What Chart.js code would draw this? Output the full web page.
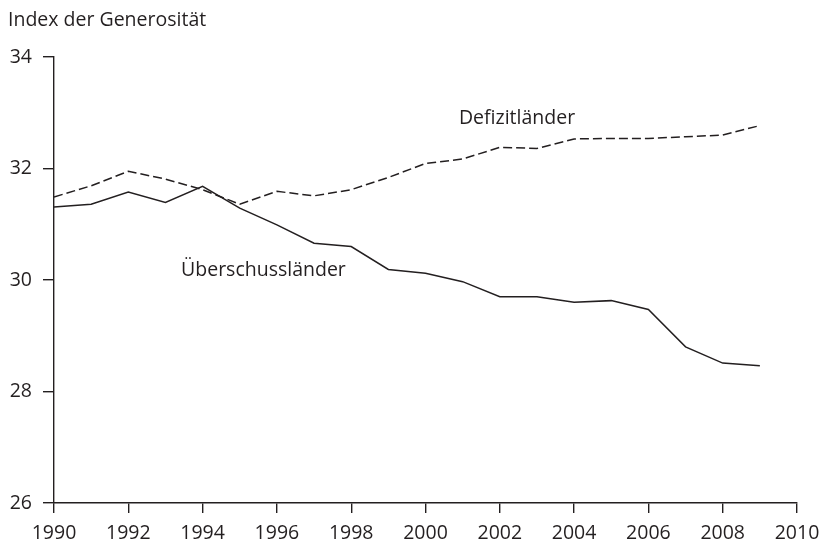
<!DOCTYPE html>
<html>
<head>
<meta charset="utf-8">
<script src="https://cdn.jsdelivr.net/npm/chart.js@4"></script>
<style>
  html, body { margin: 0; padding: 0; background: #fff; }
  #chart { display: block; }
</style>
</head>
<body>
<canvas id="chart" width="820" height="541"></canvas>
<script>
const years = [1990, 1991, 1992, 1993, 1994, 1995, 1996, 1997, 1998, 1999,
               2000, 2001, 2002, 2003, 2004, 2005, 2006, 2007, 2008, 2009];
const defizit = [31.49, 31.69, 31.95, 31.81, 31.62, 31.36, 31.59, 31.51, 31.62, 31.84,
                 32.09, 32.17, 32.38, 32.36, 32.53, 32.54, 32.54, 32.57, 32.60, 32.77];
const ueberschuss = [31.31, 31.36, 31.58, 31.39, 31.68, 31.29, 30.99, 30.66, 30.60, 30.19,
                     30.12, 29.97, 29.70, 29.70, 29.60, 29.63, 29.47, 28.80, 28.51, 28.46];
const yTicks = [26, 28, 30, 32, 34];
const xTicks = [1990, 1992, 1994, 1996, 1998, 2000, 2002, 2004, 2006, 2008, 2010];

const ink = '#231f20';
const fontFamily = '"Open Sans", "Noto Sans", sans-serif';
const fontSize = 19.5;

// labels placed in data coordinates
const seriesLabels = [
    { text: 'Defizitländer', x: 2000.9, y: 32.89 },
    { text: 'Überschussländer', x: 1993.42, y: 30.17 }
];

const textPlugin = {
    id: 'textPlugin',
    afterDraw(chart) {
        const ctx = chart.ctx;
        const xs = chart.scales.x;
        const ys = chart.scales.y;
        ctx.save();
        ctx.fillStyle = ink;
        ctx.font = fontSize + 'px ' + fontFamily;
        ctx.textBaseline = 'middle';
        ctx.textAlign = 'left';
        ctx.fillText('Index der Generosität', 8, 20);
        seriesLabels.forEach(l => {
            ctx.fillText(l.text, xs.getPixelForValue(l.x), ys.getPixelForValue(l.y));
        });
        ctx.restore();
    }
};

const ctx = document.getElementById('chart').getContext('2d');
new Chart(ctx, {
    type: 'line',
    data: {
        datasets: [{
            label: 'Defizitländer',
            data: years.map((y, i) => ({ x: y, y: defizit[i] })),
            borderColor: ink,
            borderWidth: 1.5,
            borderDash: [9, 4],
            pointRadius: 0,
            tension: 0,
            fill: false
        }, {
            label: 'Überschussländer',
            data: years.map((y, i) => ({ x: y, y: ueberschuss[i] })),
            borderColor: ink,
            borderWidth: 1.5,
            pointRadius: 0,
            tension: 0,
            fill: false
        }]
    },
    options: {
        responsive: false,
        animation: false,
        layout: { padding: { left: 0, top: 57, right: 23, bottom: 0 } },
        plugins: {
            legend: { display: false },
            tooltip: { enabled: false }
        },
        scales: {
            x: {
                type: 'linear',
                min: 1990,
                max: 2010,
                afterFit: s => {
                    s.height = 38;
                    s.paddingLeft = 0;
                    s.paddingRight = 0;
                },
                afterBuildTicks: s => { s.ticks = xTicks.map(v => ({ value: v })); },
                ticks: {
                    color: ink,
                    font: { family: fontFamily, size: fontSize },
                    padding: 9,
                    maxRotation: 0,
                    callback: v => String(v)
                },
                grid: { drawOnChartArea: false, drawTicks: true, tickLength: 10, color: ink, lineWidth: 1.4 },
                border: { display: true, color: ink, width: 1.4 }
            },
            y: {
                min: 26,
                max: 34,
                afterFit: s => {
                    s.width = 54;
                    s.paddingTop = 0;
                    s.paddingBottom = 0;
                },
                afterBuildTicks: s => { s.ticks = yTicks.map(v => ({ value: v })); },
                ticks: {
                    color: ink,
                    font: { family: fontFamily, size: fontSize },
                    padding: 11,
                    callback: v => String(v)
                },
                grid: { drawOnChartArea: false, drawTicks: true, tickLength: 11, color: ink, lineWidth: 1.4 },
                border: { display: true, color: ink, width: 1.4 }
            }
        }
    },
    plugins: [textPlugin]
});
</script>
</body>
</html>
